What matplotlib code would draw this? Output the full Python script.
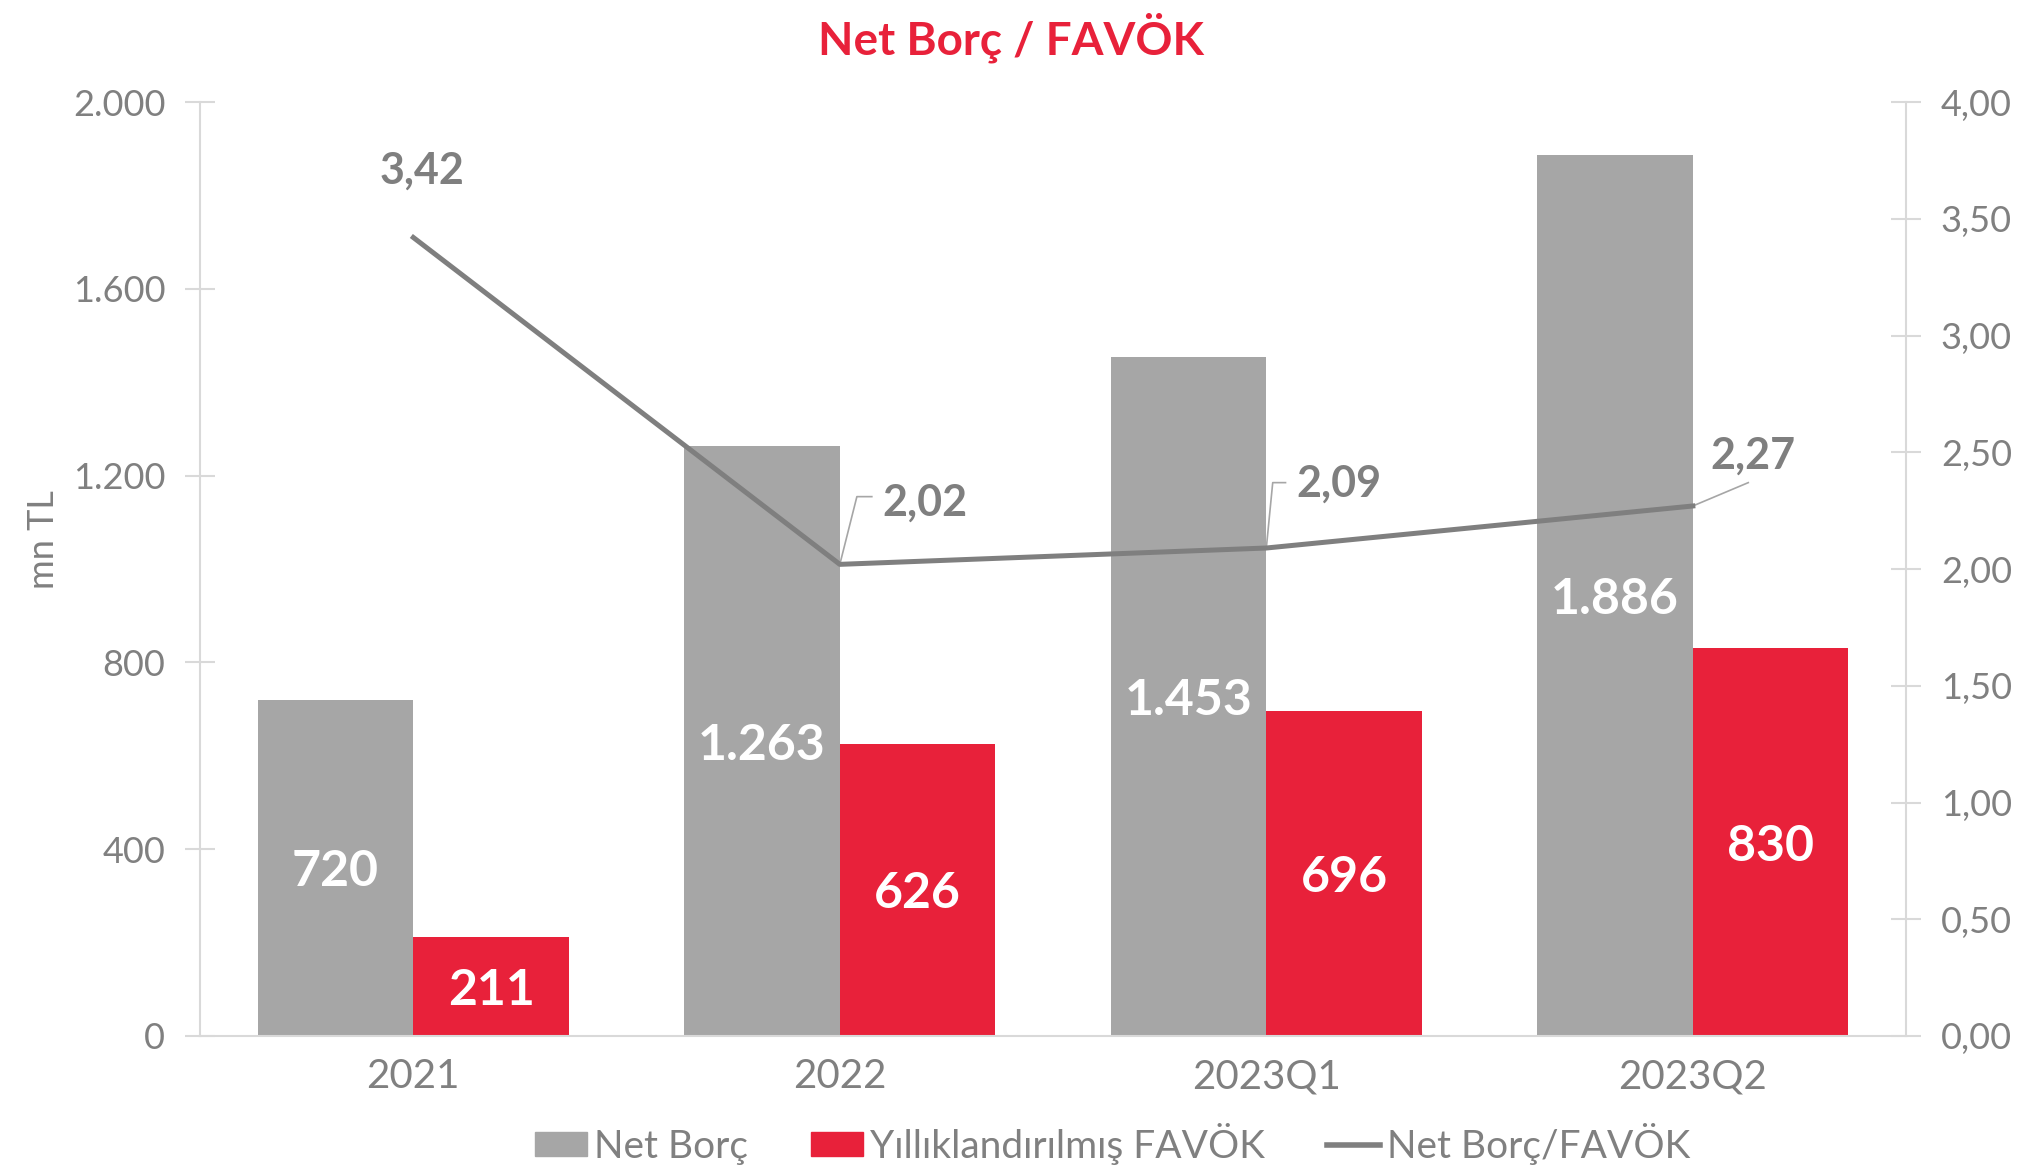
import matplotlib
matplotlib.use("Agg")
import matplotlib.pyplot as plt
from matplotlib.patches import Patch
from matplotlib.lines import Line2D
import numpy as np

plt.rcParams['font.family'] = ['Lato', 'DejaVu Sans']

# veriler
donemler = ["2021", "2022", "2023Q1", "2023Q2"]
net_borc = [720, 1263, 1453, 1886]
favok = [211, 626, 696, 830]
oran = [3.42, 2.02, 2.09, 2.27]
sol_ticks = [0, 400, 800, 1200, 1600, 2000]
sol_etiket = ["0", "400", "800", "1.200", "1.600", "2.000"]
sag_ticks = [0, 0.5, 1, 1.5, 2, 2.5, 3, 3.5, 4]
sag_etiket = ["0,00", "0,50", "1,00", "1,50", "2,00", "2,50", "3,00", "3,50", "4,00"]

gri = "#A6A6A6"
kirmizi = "#E8213A"
cizgi = "#7F7F7F"
yazi = "#808080"
eksen = "#D9D9D9"


def tr_sayi(v):
    return f"{v:,}".replace(",", ".")


fig = plt.figure(figsize=(20.23, 11.73), dpi=100)
ax = fig.add_axes([0.0989, 0.1168, 0.8433, 0.7962])
ax2 = ax.twinx()

x = np.arange(len(donemler))
w = 0.365
b1 = ax.bar(x - w / 2, net_borc, w, color=gri, zorder=2)
b2 = ax.bar(x + w / 2, favok, w, color=kirmizi, zorder=2)

for bar, v in zip(b1, net_borc):
    ax.text(bar.get_x() + bar.get_width() / 2, v / 2, tr_sayi(v), ha="center",
            va="center_baseline", color="white", fontsize=36, fontweight="bold")
for bar, v in zip(b2, favok):
    ax.text(bar.get_x() + bar.get_width() / 2, v / 2, tr_sayi(v), ha="center",
            va="center_baseline", color="white", fontsize=36, fontweight="bold")

ax.set_xlim(-0.5, len(donemler) - 0.5)
ax.set_ylim(0, 2000)
ax.set_yticks(sol_ticks)
ax.set_yticklabels(sol_etiket)
ax.set_xticks(x)
ax.set_xticklabels(donemler)
ax.tick_params(axis="x", length=0, pad=16, labelsize=29, labelcolor=yazi)
ax.tick_params(axis="y", direction="inout", length=22, width=1.5, color=eksen, pad=14,
               labelsize=26, labelcolor=yazi)
ax.set_ylabel("mn TL", fontsize=26, color=yazi)
ax.yaxis.set_label_coords(-0.082, 0.532)
for s in ["top", "right"]:
    ax.spines[s].set_visible(False)
for s in ["left", "bottom"]:
    ax.spines[s].set_color(eksen)
    ax.spines[s].set_linewidth(1.5)

ax2.plot(x, oran, color=cizgi, linewidth=3.6, zorder=3)
ax2.set_ylim(0, 4)
ax2.set_yticks(sag_ticks)
ax2.set_yticklabels(sag_etiket)
ax2.tick_params(axis="y", direction="inout", length=22, width=1.5, color=eksen, pad=14,
                labelsize=26, labelcolor=yazi)
for s in ["top", "left", "bottom"]:
    ax2.spines[s].set_visible(False)
ax2.spines["right"].set_color(eksen)
ax2.spines["right"].set_linewidth(1.5)

# çizgi etiketleri
etiket_yer = [(0.02, 3.72), (1.2, 2.30), (2.17, 2.38), (3.14, 2.50)]
for i, (v, (tx, ty)) in enumerate(zip(oran, etiket_yer)):
    ax2.text(tx, ty, f"{v:.2f}".replace(".", ","), ha="center", va="center_baseline",
             color=cizgi, fontsize=31, fontweight="bold")
# leader çizgileri
ax2.plot([x[1], x[1] + 0.04, x[1] + 0.075], [oran[1], 2.31, 2.31], color="#A6A6A6", lw=1.2)
ax2.plot([x[2], x[2] + 0.015, x[2] + 0.045], [oran[2], 2.37, 2.37], color="#A6A6A6", lw=1.2)
ax2.plot([x[3], x[3] + 0.13], [oran[3], 2.37], color="#A6A6A6", lw=1.2)

fig.text(0.5, 0.968, "Net Borç / FAVÖK", ha="center", va="center", color=kirmizi,
         fontsize=33, fontweight="bold")

handles = [Patch(color=gri), Patch(color=kirmizi), Line2D([0], [0], color=cizgi, lw=4)]
fig.legend(handles, ["Net Borç", "Yıllıklandırılmış FAVÖK", "Net Borç/FAVÖK"],
           loc="center", bbox_to_anchor=(0.55, 0.025), ncol=3, frameon=False,
           fontsize=28, labelcolor=yazi, handlelength=1.35, handleheight=0.55,
           handletextpad=0.18, columnspacing=1.6)

fig.savefig("out.png", dpi=100)
